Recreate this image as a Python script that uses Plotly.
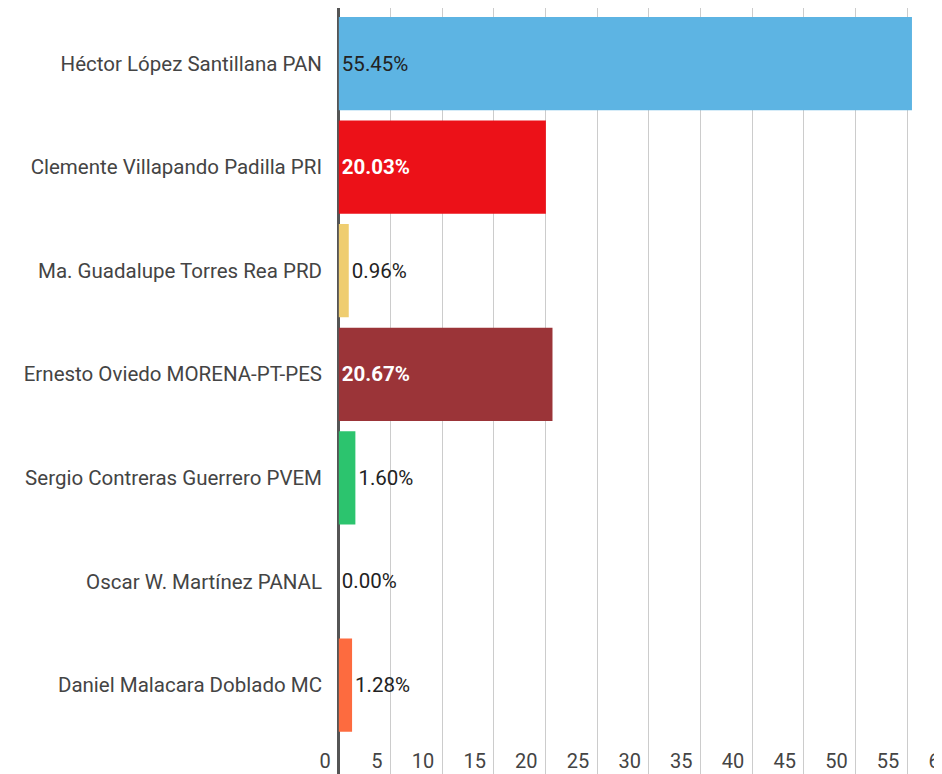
import plotly.graph_objects as go

candidates = [
    "Héctor López Santillana PAN",
    "Clemente Villapando Padilla PRI",
    "Ma. Guadalupe Torres Rea PRD",
    "Ernesto Oviedo MORENA-PT-PES",
    "Sergio Contreras Guerrero PVEM",
    "Oscar W. Martínez PANAL",
    "Daniel Malacara Doblado MC",
]
percentages = [55.45, 20.03, 0.96, 20.67, 1.60, 0.00, 1.28]
bar_colors = ["#5DB4E3", "#EC1118", "#EFCD70", "#9B3438", "#2CC46E", "#888888", "#FD6B3F"]
label_positions = ["inside", "inside", "outside", "inside", "outside", "outside", "outside"]
label_colors = ["#222222", "#FFFFFF", "#222222", "#FFFFFF", "#222222", "#222222", "#222222"]
label_weights = ["normal", "bold", "normal", "bold", "normal", "normal", "normal"]
x_ticks = [0, 5, 10, 15, 20, 25, 30, 35, 40, 45, 50, 55, 60]

texts = [f"{v:.2f}%" for v in percentages]

fig = go.Figure(go.Bar(
    x=percentages,
    y=candidates,
    orientation="h",
    marker=dict(color=bar_colors, line=dict(width=0)),
    text=texts,
    textposition=label_positions,
    insidetextanchor="start",
    textfont=dict(family="Roboto", size=20.5, color=label_colors, weight=label_weights),
    cliponaxis=False,
    hoverinfo="skip",
))

fig.update_layout(
    width=951, height=766,
    margin=dict(l=305, r=0, t=0, b=0, autoexpand=False),
    paper_bgcolor="white", plot_bgcolor="white",
    bargap=0.10,
    showlegend=False,
    font=dict(family="Roboto", color="#444444"),
)

fig.update_xaxes(
    range=[-2.5, 60],
    tickvals=x_ticks,
    ticktext=[str(t) for t in x_ticks],
    showgrid=True, gridcolor="#CCCCCC", gridwidth=1,
    zeroline=True, zerolinecolor="#555555", zerolinewidth=2.5,
    ticklabelposition="inside left",
    ticklabelshift=-8,
    ticklabelstandoff=-4,
    tickfont=dict(family="Roboto", size=20, color="#444444"),
    showline=False,
    ticks="",
    automargin=False,
    fixedrange=True,
)

fig.update_yaxes(
    categoryorder="array", categoryarray=candidates,
    range=[6.859, -0.536],
    showgrid=False,
    showline=False,
    ticks="",
    ticklabelstandoff=-10,
    tickfont=dict(family="Roboto", size=20.5, color="#444444"),
    automargin=False,
    fixedrange=True,
)

fig.write_html("out.html")
